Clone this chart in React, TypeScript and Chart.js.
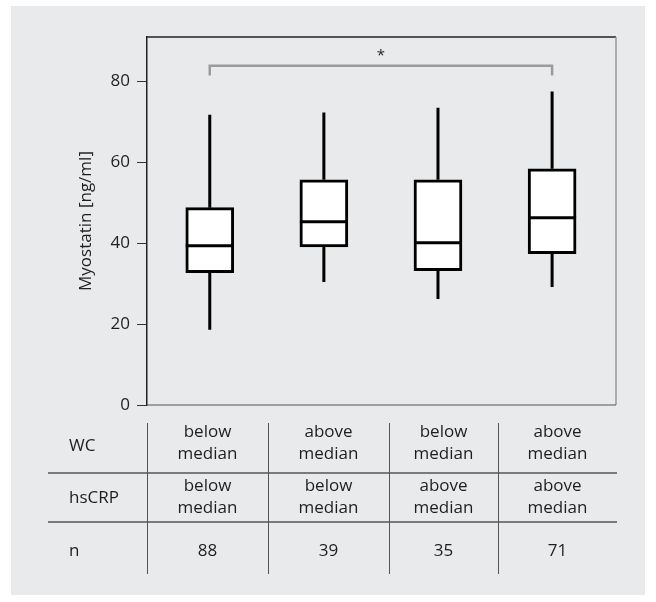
import React, { useEffect, useRef } from 'react';
import { Chart, registerables } from 'chart.js';

Chart.register(...registerables);

// ---- data ----
const categories = [1, 2, 3, 4];
const whiskerMin = [18.6, 30.4, 26.2, 29.2];
const q1 = [32.7, 39.1, 33.2, 37.4];
const median = [39.4, 45.3, 40.1, 46.3];
const q3 = [48.8, 55.7, 55.7, 58.4];
const whiskerMax = [71.8, 72.3, 73.5, 77.5];

const yTickStep = 20;
const yMin = 0;
const yMax = 91;

const yTitle = 'Myostatin [ng/ml]';

// significance bracket between group 1 and group 4
const sigGroups = [1, 4];
const sigLevels = [83.9, 81.5]; // bracket top, bracket leg end
const sigLabel = '*';

// table below
const rowLabels = ['WC', 'hsCRP', 'n'];
const wcRow = [['below', 'median'], ['above', 'median'], ['below', 'median'], ['above', 'median']];
const hsCRPRow = [['below', 'median'], ['below', 'median'], ['above', 'median'], ['above', 'median']];
const nRow = [['88'], ['39'], ['35'], ['71']];

// ---- layout / style ----
const FONT = '"Open Sans", "DejaVu Sans", sans-serif';
const TEXT = '#1e1e1e';
const PANEL = '#e9eaeb';
const tableCols = [147, 268, 389, 498, 617];
const tableLineX = [48, 617];
const tableHLines = [473, 522];
const tableVLineY = [423, 574];
const rowLineYs = [[432, 454], [486, 508], [551]];
const rowLabelYs = [446, 498, 551];

const boxPlugin = {
  id: 'boxPlugin',
  beforeDraw(chart: any) {
    const ctx = chart.ctx;
    ctx.save();
    ctx.fillStyle = '#ffffff';
    ctx.fillRect(0, 0, chart.width, chart.height);
    ctx.fillStyle = PANEL;
    ctx.fillRect(11, 6, 634, 589);
    ctx.restore();
  },
  beforeDatasetsDraw(chart: any) {
    const ctx = chart.ctx;
    const xs = chart.scales.x;
    const ys = chart.scales.y;
    const ca = chart.chartArea;
    ctx.save();
    // frame
    ctx.lineWidth = 1.5;
    ctx.strokeStyle = '#222';
    ctx.beginPath();
    ctx.moveTo(ca.left, ca.top);
    ctx.lineTo(ca.right, ca.top);
    ctx.stroke();
    ctx.strokeStyle = '#999';
    ctx.beginPath();
    ctx.moveTo(ca.right, ca.top);
    ctx.lineTo(ca.right, ca.bottom);
    ctx.stroke();
    ctx.strokeStyle = '#555';
    ctx.lineWidth = 1.2;
    ctx.beginPath();
    ctx.moveTo(ca.left, ca.bottom);
    ctx.lineTo(ca.right, ca.bottom);
    ctx.stroke();

    // whiskers
    ctx.strokeStyle = '#000';
    ctx.lineWidth = 3;
    ctx.lineCap = 'butt';
    categories.forEach((c, i) => {
      const x = xs.getPixelForValue(c);
      ctx.beginPath();
      ctx.moveTo(x, ys.getPixelForValue(whiskerMin[i]));
      ctx.lineTo(x, ys.getPixelForValue(q1[i]));
      ctx.moveTo(x, ys.getPixelForValue(q3[i]));
      ctx.lineTo(x, ys.getPixelForValue(whiskerMax[i]));
      ctx.stroke();
    });

    // significance bracket
    const x1 = xs.getPixelForValue(sigGroups[0]);
    const x2 = xs.getPixelForValue(sigGroups[1]);
    const yTop = ys.getPixelForValue(sigLevels[0]);
    const yLeg = ys.getPixelForValue(sigLevels[1]);
    ctx.strokeStyle = '#9b9b9b';
    ctx.lineWidth = 2.5;
    ctx.beginPath();
    ctx.moveTo(x1, yLeg);
    ctx.lineTo(x1, yTop);
    ctx.lineTo(x2, yTop);
    ctx.lineTo(x2, yLeg);
    ctx.stroke();
    ctx.fillStyle = TEXT;
    ctx.font = `15px ${FONT}`;
    ctx.textAlign = 'center';
    ctx.textBaseline = 'middle';
    ctx.fillText(sigLabel, (x1 + x2) / 2, yTop - 10);
    ctx.restore();
  },
  afterDatasetsDraw(chart: any) {
    const ctx = chart.ctx;
    const ys = chart.scales.y;
    const meta = chart.getDatasetMeta(0);
    ctx.save();
    ctx.strokeStyle = '#000';
    ctx.lineWidth = 3;
    meta.data.forEach((el: any, i: number) => {
      const y = ys.getPixelForValue(median[i]);
      ctx.beginPath();
      ctx.moveTo(el.x - el.width / 2, y);
      ctx.lineTo(el.x + el.width / 2, y);
      ctx.stroke();
    });
    ctx.restore();
  },
  afterDraw(chart: any) {
    const ctx = chart.ctx;
    ctx.save();
    ctx.strokeStyle = '#555';
    ctx.lineWidth = 1.3;
    tableHLines.forEach((y) => {
      ctx.beginPath();
      ctx.moveTo(tableLineX[0], y);
      ctx.lineTo(tableLineX[1], y);
      ctx.stroke();
    });
    ctx.lineWidth = 1;
    tableCols.slice(0, 4).forEach((x) => {
      ctx.beginPath();
      ctx.moveTo(x + 0.5, tableVLineY[0]);
      ctx.lineTo(x + 0.5, tableVLineY[1]);
      ctx.stroke();
    });
    ctx.fillStyle = TEXT;
    ctx.font = `17px ${FONT}`;
    ctx.textBaseline = 'middle';
    ctx.textAlign = 'left';
    rowLabels.forEach((l, r) => ctx.fillText(l, 69, rowLabelYs[r]));
    ctx.textAlign = 'center';
    [wcRow, hsCRPRow, nRow].forEach((row, r) => {
      row.forEach((cell, c) => {
        const cx = (tableCols[c] + tableCols[c + 1]) / 2;
        cell.forEach((line, k) => ctx.fillText(line, cx, rowLineYs[r][k]));
      });
    });
    ctx.restore();
  },
};

export default function App() {
  const ref = useRef<HTMLCanvasElement | null>(null);
  useEffect(() => {
    if (!ref.current) return;
    const chart = new Chart(ref.current, {
      type: 'bar',
      data: {
        datasets: [
          {
            data: categories.map((c, i) => ({ x: c, y: [q1[i], q3[i]] })) as any,
            backgroundColor: '#ffffff',
            borderColor: '#000000',
            borderWidth: 3,
            borderSkipped: false,
            barThickness: 48,
          },
        ],
      },
      options: {
        responsive: false,
        maintainAspectRatio: false,
        animation: false,
        devicePixelRatio: 1,
        layout: { padding: { left: 70, top: 37, right: 40, bottom: 197 } },
        plugins: { legend: { display: false }, tooltip: { enabled: false }, title: { display: false } },
        scales: {
          x: { type: 'linear', min: 0.45, max: 4.56, offset: false, grid: { offset: false }, display: false },
          y: {
            min: yMin,
            max: yMax,
            afterFit: (s: any) => {
              s.width = 77;
            },
            ticks: {
              stepSize: yTickStep,
              includeBounds: false,
              color: TEXT,
              padding: 7,
              font: { family: FONT, size: 17 },
            },
            grid: { drawOnChartArea: false, tickLength: 10, color: '#333', lineWidth: 1 },
            border: { display: true, color: '#222', width: 1.5 },
            title: {
              display: true,
              text: yTitle,
              color: TEXT,
              font: { family: FONT, size: 17 },
              padding: { top: 6, bottom: 0 },
            },
          },
        },
      } as any,
      plugins: [boxPlugin],
    });
    return () => chart.destroy();
  }, []);
  return (
    <div style={{ position: 'absolute', left: 0, top: 0, width: 656, height: 602 }}>
      <canvas ref={ref} width={656} height={602} style={{ display: 'block' }} />
    </div>
  );
}
